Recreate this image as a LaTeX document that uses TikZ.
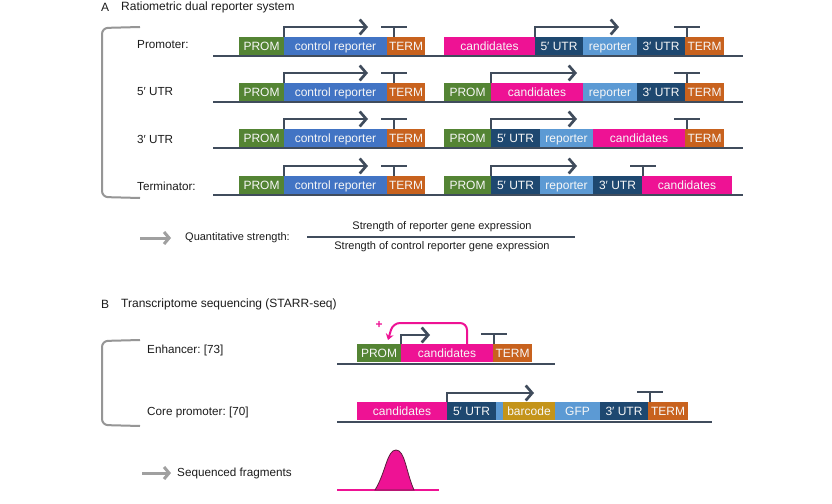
\documentclass[tikz,border=0pt]{standalone}
\usepackage{fontspec}
\setmainfont{Liberation Sans}
\usetikzlibrary{arrows.meta,calc}
\definecolor{cprom}{RGB}{84,132,52}
\definecolor{cctl}{RGB}{66,116,196}
\definecolor{cterm}{RGB}{200,98,30}
\definecolor{ccand}{RGB}{238,18,148}
\definecolor{cutr}{RGB}{30,72,112}
\definecolor{crep}{RGB}{92,154,212}
\definecolor{cbar}{RGB}{196,148,26}
\definecolor{cline}{RGB}{64,76,92}
\definecolor{cgray}{RGB}{160,160,160}
\definecolor{cbrk}{RGB}{150,150,150}
\definecolor{ctxt}{RGB}{28,28,28}
\definecolor{cpeak}{RGB}{90,30,60}
\tikzset{
  seg/.style={inner sep=0pt, outer sep=0pt, minimum height=18pt, text=white!94!gray,
    text height=8.4pt, text depth=0pt, font=\fontsize{12}{12}\selectfont},
  lbl/.style={anchor=west, inner sep=0pt, text=ctxt, font=\frenchspacing\fontsize{11.7}{13}\selectfont},
  baseln/.style={draw=cline, line width=2.4pt},
  parrow/.style={draw=cline, line width=2.7pt, -{Straight Barb[length=6.5pt,width=15pt]}},
  tline/.style={draw=cline, line width=2.7pt},
  grayarrow/.style={draw=cgray, line width=3pt, -{Straight Barb[length=5pt,width=12pt]}},
  brk/.style={draw=cbrk, line width=2pt, rounded corners=6pt},
}
% \sg{name}{x1}{x2}{ytop}{color}{text}
\newcommand\sg[6]{\node[seg, fill=#5, minimum width={#3-#2}] (#1) at ({(#2+#3)/2},{#4+9}) {#6};}
% \tbar{node}{offset}
\newcommand\tbar[2]{\draw[tline] ([xshift=#2pt]#1.north west) -- ++(0,-10) ++(-13,0) -- ++(26,0);}
% \parw{node}{length}{height}
\newcommand\parw[3]{\draw[parrow] (#1.north west) -- ++(0,-#3) -- ++(#2,0);}
\begin{document}
\begin{tikzpicture}[x=1pt, y=-1pt]
\useasboundingbox (0,0) rectangle (832,503);
\fill[white] (0,0) rectangle (832,503);

% ---------------- A ----------------
\node[lbl, font=\fontsize{12}{13}\selectfont] (Atag) at (101,7) {A};
\node[lbl, font=\fontsize{12}{13}\selectfont] (Atitle) at (121,7) {Ratiometric dual reporter system};

\draw[brk] (140,27) -- (102,28) -- (102,197) -- (140,198);

% row labels
\node[lbl] (l1) at (137,45) {Promoter:};
\node[lbl] (l2) at (137,92) {5′ UTR};
\node[lbl] (l3) at (137,139) {3′ UTR};
\node[lbl] (l4) at (137,186) {Terminator:};

% baselines
\coordinate (b1s) at (213,56); \coordinate (b1e) at (743,56);
\coordinate (b2s) at (213,102); \coordinate (b2e) at (743,102);
\coordinate (b3s) at (213,148); \coordinate (b3e) at (743,148);
\coordinate (b4s) at (213,195); \coordinate (b4e) at (743,195);
\foreach \r in {1,2,3,4} {\draw[baseln] (b\r s) -- (b\r e);}

% left control cassette (all rows)
\foreach \r/\y in {1/37,2/83,3/129,4/176} {
  \sg{p\r}{239}{284}{\y}{cprom}{PROM}
  \sg{c\r}{284}{387}{\y}{cctl}{control reporter}
  \sg{t\r}{387}{425}{\y}{cterm}{TERM}
  \parw{c\r}{84}{10}
  \tbar{t\r}{7}
}

% row 1 right
\sg{r1a}{444}{535}{37}{ccand}{candidates}
\sg{r1b}{535}{583}{37}{cutr}{5′ UTR}
\sg{r1c}{583}{637}{37}{crep}{reporter}
\sg{r1d}{637}{685}{37}{cutr}{3′ UTR}
\sg{r1e}{685}{724}{37}{cterm}{TERM}
\parw{r1b}{84}{10}
\tbar{r1e}{2}

% row 2 right
\sg{r2a}{444}{491}{83}{cprom}{PROM}
\sg{r2b}{491}{583}{83}{ccand}{candidates}
\sg{r2c}{583}{637}{83}{crep}{reporter}
\sg{r2d}{637}{685}{83}{cutr}{3′ UTR}
\sg{r2e}{685}{724}{83}{cterm}{TERM}
\parw{r2b}{86}{10}
\tbar{r2e}{2}

% row 3 right
\sg{r3a}{444}{491}{129}{cprom}{PROM}
\sg{r3b}{491}{540}{129}{cutr}{5′ UTR}
\sg{r3c}{540}{593}{129}{crep}{reporter}
\sg{r3d}{593}{685}{129}{ccand}{candidates}
\sg{r3e}{685}{724}{129}{cterm}{TERM}
\parw{r3b}{86}{10}
\tbar{r3e}{2}

% row 4 right
\sg{r4a}{444}{491}{176}{cprom}{PROM}
\sg{r4b}{491}{540}{176}{cutr}{5′ UTR}
\sg{r4c}{540}{593}{176}{crep}{reporter}
\sg{r4d}{593}{642}{176}{cutr}{3′ UTR}
\sg{r4e}{642}{732}{176}{ccand}{candidates}
\parw{r4b}{86}{10}
\tbar{r4e}{1}

% formula
\coordinate (ga1s) at (140,238); \coordinate (ga1e) at (171,238);
\draw[grayarrow] (ga1s) -- (ga1e);
\node[lbl, font=\fontsize{11}{12}\selectfont] (qs) at (185,238) {Quantitative strength:};
\coordinate (fl) at (307,237); \coordinate (fr) at (575,237);
\draw[draw=cline, line width=1.2pt] (fl) -- (fr);
\node[inner sep=0pt, text=ctxt, font=\fontsize{11}{12}\selectfont] (num) at (442,227) {Strength of reporter gene expression};
\node[inner sep=0pt, text=ctxt, font=\fontsize{11}{12}\selectfont] (den) at (442,247) {Strength of control reporter gene expression};

% ---------------- B ----------------
\node[lbl, font=\fontsize{12}{13}\selectfont] (Btag) at (101,304) {B};
\node[lbl, font=\fontsize{12}{13}\selectfont] (Btitle) at (121,304) {Transcriptome sequencing (STARR-seq)};

\draw[brk] (140,340) -- (102,341) -- (102,425) -- (140,426);

\node[lbl] (le) at (147,350) {Enhancer: [73]};
\node[lbl] (lc) at (147,412) {Core promoter: [70]};

% enhancer row
\coordinate (be1) at (337,364); \coordinate (be2) at (555,364);
\draw[baseln] (be1) -- (be2);
\sg{e1}{357}{401}{344}{cprom}{PROM}
\sg{e2}{401}{493}{344}{ccand}{candidates}
\sg{e3}{493}{532}{344}{cterm}{TERM}
\parw{e2}{29}{9}
\tbar{e3}{1}
\coordinate (lp) at (467,344);
\coordinate (lpend) at (388,340);
\draw[draw=ccand, line width=2pt, rounded corners=7pt, -{Stealth[length=6pt,width=8pt]}]
  (lp) -- (467,323) -- (393,323) -- (lpend);
\node[inner sep=0pt, text=ccand, font=\bfseries\fontsize{12}{12}\selectfont] (plus) at (379,325) {+};

% core promoter row
\coordinate (bc1) at (337,422); \coordinate (bc2) at (712,422);
\draw[baseln] (bc1) -- (bc2);
\sg{k1}{357}{447}{402}{ccand}{candidates}
\sg{k2}{447}{496}{402}{cutr}{5′ UTR}
\sg{k3}{496}{503}{402}{crep}{}
\sg{k4}{503}{555}{402}{cbar}{barcode}
\sg{k5}{555}{600}{402}{crep}{GFP}
\sg{k6}{600}{648}{402}{cutr}{3′ UTR}
\sg{k7}{648}{688}{402}{cterm}{TERM}
\parw{k2}{87}{9}
\tbar{k7}{2}

% sequenced fragments
\coordinate (ga2s) at (142,473); \coordinate (ga2e) at (171,473);
\draw[grayarrow] (ga2s) -- (ga2e);
\node[lbl, font=\fontsize{11.7}{12}\selectfont] (sf) at (177,473) {Sequenced fragments};
\coordinate (pk1) at (337,490); \coordinate (pk2) at (439,490);
\draw[draw=ccand, line width=2pt] (pk1) -- (pk2);
\draw[fill=ccand, draw=cpeak, line width=0.8pt]
  (375,490) .. controls (386,472) and (387,450) .. (396,450)
  .. controls (405,450) and (406,472) .. (414,490) -- cycle;
\end{tikzpicture}
\end{document}
